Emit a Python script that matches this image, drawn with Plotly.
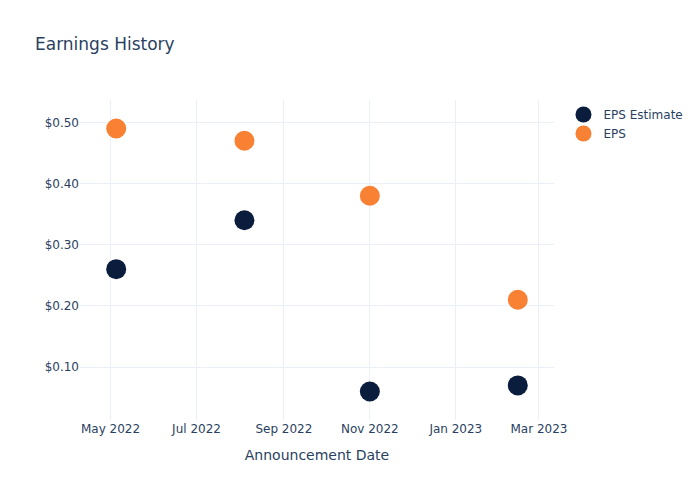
import plotly.graph_objects as go

dates = ["2022-05-05", "2022-08-04", "2022-11-01", "2023-02-14"]
eps_estimate = [0.26, 0.34, 0.06, 0.07]
eps_actual = [0.49, 0.47, 0.38, 0.21]

fig = go.Figure()
fig.add_trace(go.Scatter(x=dates, y=eps_estimate, mode="markers", name="EPS Estimate",
                         marker=dict(color="#0b1d3d", size=20)))
fig.add_trace(go.Scatter(x=dates, y=eps_actual, mode="markers", name="EPS",
                         marker=dict(color="#f88134", size=20)))
fig.update_layout(
    template="plotly_white",
    width=700, height=500,
    font=dict(family="DejaVu Sans"),
    title=dict(text="Earnings History"),
    xaxis=dict(title=dict(text="Announcement Date"), dtick="M2", tickformat="%b %Y"),
    yaxis=dict(tickprefix="$", tickformat=".2f", dtick=0.1),
)
fig.write_html("out.html")
